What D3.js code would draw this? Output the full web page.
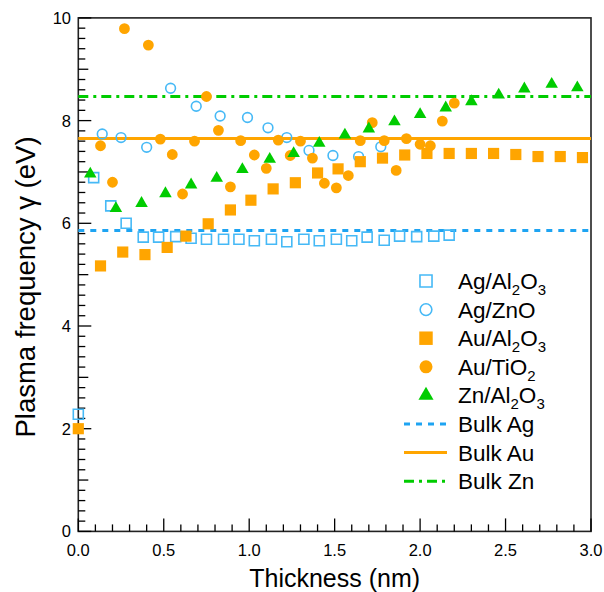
<!DOCTYPE html>
<html>
<head>
<script src="https://d3js.org/d3.v7.min.js"></script>
<style>
  body { margin: 0; background: #fff; }
  text { font-family: "Liberation Sans", Arial, Helvetica, sans-serif; fill: #000; }
</style>
</head>
<body>
<div id="chart"></div>
<script>
// data: [thickness (nm), plasma frequency (eV)]
const agAl2O3 = [[0,2.28],[0.09,6.89],[0.19,6.34],[0.28,6.00],[0.38,5.73],[0.47,5.73],[0.57,5.74],[0.66,5.71],[0.75,5.69],[0.85,5.69],[0.94,5.69],[1.03,5.66],[1.13,5.69],[1.22,5.64],[1.32,5.69],[1.41,5.66],[1.51,5.69],[1.60,5.66],[1.69,5.73],[1.79,5.67],[1.88,5.75],[1.98,5.74],[2.08,5.75],[2.17,5.77]];
const agZnO = [[0.14,7.74],[0.25,7.67],[0.40,7.48],[0.54,8.63],[0.69,8.28],[0.83,8.09],[0.99,8.06],[1.11,7.86],[1.22,7.67],[1.35,7.42],[1.49,7.32],[1.64,7.30],[1.77,7.49]];
const auAl2O3 = [[0,2.0],[0.13,5.17],[0.26,5.44],[0.39,5.39],[0.52,5.53],[0.63,5.75],[0.76,5.99],[0.89,6.26],[1.01,6.45],[1.14,6.67],[1.27,6.79],[1.40,6.98],[1.52,7.06],[1.65,7.20],[1.78,7.27],[1.91,7.33],[2.04,7.36],[2.17,7.36],[2.30,7.36],[2.43,7.36],[2.56,7.34],[2.69,7.30],[2.82,7.30],[2.95,7.28]];
const auTiO2 = [[0.13,7.51],[0.20,6.80],[0.27,9.79],[0.41,9.47],[0.48,7.64],[0.55,7.34],[0.61,6.57],[0.68,7.60],[0.75,8.47],[0.82,7.81],[0.89,6.71],[0.95,7.61],[1.03,7.33],[1.10,7.07],[1.17,7.62],[1.24,7.32],[1.30,7.60],[1.37,7.27],[1.44,6.78],[1.51,6.69],[1.58,6.93],[1.65,7.61],[1.72,7.96],[1.79,7.61],[1.86,7.03],[1.92,7.65],[2.00,7.54],[2.06,7.51],[2.13,7.99],[2.20,8.34]];
const znAl2O3 = [[0.07,6.96],[0.22,6.29],[0.37,6.39],[0.51,6.58],[0.66,6.75],[0.81,6.88],[0.96,7.05],[1.12,7.25],[1.26,7.36],[1.41,7.56],[1.56,7.72],[1.70,7.84],[1.85,7.98],[2.00,8.12],[2.15,8.25],[2.30,8.37],[2.46,8.50],[2.61,8.62],[2.77,8.71],[2.92,8.64]];
const bulkValues = [5.86, 7.65, 8.47]; // Ag, Au, Zn
const xTickLabels = ["0.0","0.5","1.0","1.5","2.0","2.5","3.0"];
const yTickLabels = ["0","2","4","6","8","10"];

const W = 604, H = 592;
const blue = "#1ea4f2", blueMk = "#46b9f6", orange = "#ffa500", green = "#00cc00";

const svg = d3.select("#chart").append("svg").attr("width", W).attr("height", H);

const x = d3.scaleLinear().domain([0, 3]).range([78.3, 591]);
const y = d3.scaleLinear().domain([0, 10]).range([531.4, 17.9]);

// frame
svg.append("rect")
  .attr("x", x(0)).attr("y", y(10))
  .attr("width", x(3) - x(0)).attr("height", y(0) - y(10))
  .attr("fill", "none").attr("stroke", "#222").attr("stroke-width", 1.6);

// x ticks (inside)
const xt = d3.range(0, 31).map(i => i / 10);
svg.append("g").selectAll("line").data(xt).enter().append("line")
  .attr("x1", d => x(d)).attr("x2", d => x(d))
  .attr("y1", y(0)).attr("y2", (d, i) => y(0) - (i % 5 === 0 ? 13 : 7))
  .attr("stroke", "#000").attr("stroke-width", 1.3);
svg.append("g").selectAll("text").data(xTickLabels).enter().append("text")
  .attr("x", d => x(+d)).attr("y", 556)
  .attr("text-anchor", "middle").attr("font-size", 16.5).text(d => d);

// y ticks (inside)
const yt = d3.range(0, 51).map(i => i / 5);
svg.append("g").selectAll("line").data(yt).enter().append("line")
  .attr("y1", d => y(d)).attr("y2", d => y(d))
  .attr("x1", x(0)).attr("x2", (d, i) => x(0) + (i % 10 === 0 ? 13 : (i % 5 === 0 ? 10 : 7)))
  .attr("stroke", "#000").attr("stroke-width", 1.3);
svg.append("g").selectAll("text").data(yTickLabels).enter().append("text")
  .attr("x", 71).attr("y", d => y(+d) + 6)
  .attr("text-anchor", "end").attr("font-size", 16.5).text(d => d);

// axis titles
svg.append("text").attr("x", x(1.5)).attr("y", 587)
  .attr("text-anchor", "middle").attr("font-size", 25).text("Thickness (nm)");
svg.append("text").attr("transform", "translate(35, 287) rotate(-90)")
  .attr("text-anchor", "middle").attr("font-size", 27.5).text("Plasma frequency \u03b3 (eV)");

// bulk lines
const bulkStyles = [
  {color: blue, dash: "6,6"},
  {color: orange, dash: null},
  {color: green, dash: "10,5,3,5"}
];
svg.append("g").selectAll("line").data(bulkValues).enter().append("line")
  .attr("x1", x(0)).attr("x2", x(3))
  .attr("y1", d => y(d)).attr("y2", d => y(d))
  .attr("stroke", (d, i) => bulkStyles[i].color)
  .attr("stroke-width", 3)
  .attr("stroke-dasharray", (d, i) => bulkStyles[i].dash);

// markers
const series = [
  {name: "Ag/Al2O3", data: agAl2O3, type: d3.symbolSquare, size: 100, fill: "none", stroke: blueMk},
  {name: "Ag/ZnO", data: agZnO, type: d3.symbolCircle, size: 74, fill: "none", stroke: blueMk},
  {name: "Au/Al2O3", data: auAl2O3, type: d3.symbolSquare, size: 125, fill: orange, stroke: "none"},
  {name: "Au/TiO2", data: auTiO2, type: d3.symbolCircle, size: 92, fill: orange, stroke: "none"},
  {name: "Zn/Al2O3", data: znAl2O3, type: d3.symbolTriangle, size: 68, fill: green, stroke: "none"}
];
series.forEach(s => {
  svg.append("g").selectAll("path").data(s.data).enter().append("path")
    .attr("transform", d => `translate(${x(d[0])},${y(d[1])})`)
    .attr("d", d3.symbol().type(s.type).size(s.size))
    .attr("fill", s.fill).attr("stroke", s.stroke).attr("stroke-width", 1.6);
});

// legend
const legRow = i => 281 + i * 28.6;
const lg = svg.append("g");
const labels = [
  ["Ag/Al", "2", "O", "3"],
  ["Ag/ZnO"],
  ["Au/Al", "2", "O", "3"],
  ["Au/TiO", "2"],
  ["Zn/Al", "2", "O", "3"],
  ["Bulk Ag"], ["Bulk Au"], ["Bulk Zn"]
];
series.forEach((s, i) => {
  lg.append("path")
    .attr("transform", `translate(426,${legRow(i)})`)
    .attr("d", d3.symbol().type(s.type).size(s.size * 1.45))
    .attr("fill", s.fill).attr("stroke", s.stroke).attr("stroke-width", 1.6);
});
bulkStyles.forEach((b, i) => {
  lg.append("line")
    .attr("x1", 404).attr("x2", 447)
    .attr("y1", legRow(5 + i)).attr("y2", legRow(5 + i))
    .attr("stroke", b.color).attr("stroke-width", 3)
    .attr("stroke-dasharray", b.dash);
});
labels.forEach((parts, i) => {
  const t = lg.append("text").attr("x", 458).attr("y", legRow(i) + 8).attr("font-size", 22.5);
  parts.forEach((p, j) => {
    const sub = j % 2 === 1;
    t.append("tspan").text(p)
      .attr("font-size", sub ? 15 : 22.5)
      .attr("dy", j === 0 ? 0 : (sub ? 6 : -6));
  });
});
</script>
</body>
</html>
